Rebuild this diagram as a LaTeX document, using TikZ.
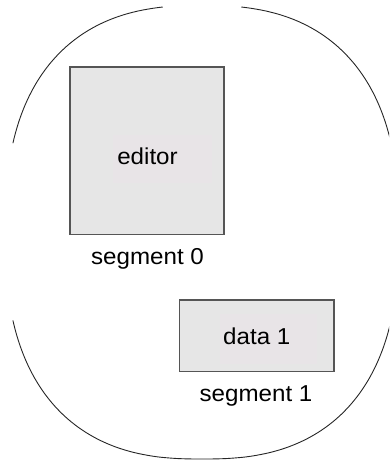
\documentclass[tikz,border=0pt]{standalone}
\usepackage{fontspec}
\setmainfont{Liberation Sans}[FakeStretch=1.05]
\definecolor{boxfill}{HTML}{E6E6E6}
\definecolor{boxline}{HTML}{555555}
\definecolor{tagfill}{HTML}{E8E4E7}
\begin{document}
\begin{tikzpicture}[x=1pt,y=-1pt,
  segbox/.style={draw=boxline,fill=boxfill,line width=1.1pt},
  tag/.style={fill=tagfill,draw=none},
  lbl/.style={font=\fontsize{23}{26}\selectfont,inner sep=0pt,anchor=base},
  rim/.style={draw=black!85,line width=0.9pt,smooth,samples=120}]
\useasboundingbox (0,0) rectangle (389,460);
\clip (0,0) rectangle (389,460);

% rounded outline of the address space (superellipse, exponent 2.5)
\def\cx{202}\def\cy{231.5}\def\ax{196.8}
\draw[rim,domain=97.5:162,variable=\t] plot
  ({\cx+\ax*sign(cos(\t))*pow(max(abs(cos(\t)),0.0001),0.8)},
   {\cy-226*sign(sin(\t))*pow(max(abs(sin(\t)),0.0001),0.8)});
\draw[rim,domain=18:82.5,variable=\t] plot
  ({\cx+\ax*sign(cos(\t))*pow(max(abs(cos(\t)),0.0001),0.8)},
   {\cy-226*sign(sin(\t))*pow(max(abs(sin(\t)),0.0001),0.8)});
\draw[rim,domain=198:342,variable=\t] plot
  ({\cx+\ax*sign(cos(\t))*pow(max(abs(cos(\t)),0.0001),0.8)},
   {\cy-227.5*sign(sin(\t))*pow(max(abs(sin(\t)),0.0001),0.8)});

% segment 0
\path[segbox] (70,67) rectangle (224,234.5);
\path[tag] (113,135) rectangle (212,183);
\node[lbl] (editor) at (147.5,164) {editor};
\node[lbl] (seg0) at (147.5,264) {segment 0};

% segment 1
\path[segbox] (179.5,300) rectangle (334,371.5);
\path[tag] (219.5,314) rectangle (317,364);
\node[lbl] (data) at (256.8,344.3) {data 1};
\node[lbl] (seg1) at (256,401) {segment 1};
\end{tikzpicture}
\end{document}
